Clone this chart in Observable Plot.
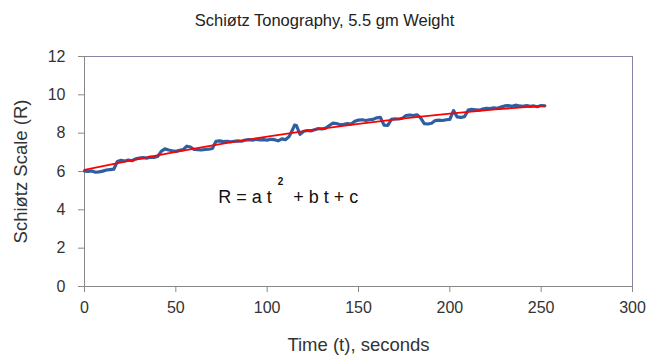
<!DOCTYPE html>
<html><head><meta charset="utf-8">
<script src="https://cdn.jsdelivr.net/npm/d3@7"></script>
<script src="https://cdn.jsdelivr.net/npm/@observablehq/plot@0.6"></script>
<style>
body{margin:0;background:#fff;font-family:"Liberation Sans",Arial,sans-serif;}
#title{width:649px;height:40px;line-height:40px;text-align:center;font-size:16.5px;color:#222;}
#chart svg{display:block;}
</style></head><body>
<div id="title"></div>
<div id="chart"></div>
<script>
const chartTitle = "Schiøtz Tonography, 5.5 gm Weight";
const xLabel = "Time (t), seconds";
const yLabel = "Schiøtz Scale (R)";
const xTicks = [0, 50, 100, 150, 200, 250, 300];
const yTicks = [0, 2, 4, 6, 8, 10, 12];

// measured readings (blue)
const times = [0,2,4,6,8,10,12,14,16,18,20,22,24,26,28,30,32,34,36,38,40,42,44,46,48,50,52,54,56,58,60,62,64,66,68,70,72,74,76,78,80,82,84,86,88,90,92,94,96,98,100,102,104,106,108,110,112,114,115,116,118,120,122,124,126,128,130,132,134,136,138,140,142,144,146,148,150,152,154,156,158,160,162,164,166,168,170,172,174,176,178,180,182,184,186,188,190,192,194,196,198,200,202,204,206,208,210,212,214,216,218,220,222,224,226,228,230,232,234,236,238,240,242,244,246,248,250,252];
const readings = [6.02,6.00,6.03,5.96,5.98,6.02,6.08,6.10,6.12,6.52,6.58,6.55,6.60,6.56,6.66,6.70,6.72,6.70,6.75,6.74,6.78,7.05,7.18,7.12,7.08,7.05,7.10,7.14,7.32,7.28,7.15,7.14,7.12,7.15,7.16,7.20,7.58,7.60,7.56,7.58,7.55,7.58,7.60,7.58,7.64,7.66,7.64,7.68,7.65,7.66,7.64,7.68,7.66,7.60,7.70,7.66,7.82,8.20,8.42,8.40,7.94,8.10,8.14,8.12,8.18,8.24,8.22,8.26,8.40,8.52,8.50,8.44,8.46,8.50,8.48,8.62,8.68,8.70,8.66,8.70,8.72,8.80,8.82,8.42,8.40,8.72,8.75,8.74,8.78,8.92,8.95,8.92,8.96,8.80,8.50,8.48,8.52,8.66,8.68,8.66,8.70,8.72,9.18,8.85,8.82,8.86,9.20,9.24,9.22,9.20,9.26,9.30,9.28,9.32,9.30,9.36,9.42,9.44,9.40,9.46,9.42,9.40,9.44,9.40,9.42,9.38,9.44,9.42];

// fitted curve (red)
const fitTimes = [0,25,50,75,100,125,150,175,200,225,250,252];
const fitValues = [6.08,6.57,7.02,7.44,7.82,8.17,8.49,8.77,9.02,9.24,9.42,9.44];

const measured = times.map((t, i) => ({t, R: readings[i]}));
const fit = fitTimes.map((t, i) => ({t, R: fitValues[i]}));

document.getElementById("title").textContent = chartTitle;

const font = "Liberation Sans, Arial, sans-serif";
const chart = Plot.plot({
  width: 649,
  height: 317,
  marginTop: 16,
  marginBottom: 71,
  marginLeft: 84,
  marginRight: 17,
  style: {fontFamily: font, fontSize: "16px", color: "#333", background: "#fff"},
  x: {domain: [0, 300]},
  y: {domain: [0, 12]},
  marks: [
    Plot.frame({stroke: "#8585a8", strokeWidth: 1}),
    Plot.axisY({ticks: yTicks, tickSize: 6, tickPadding: 13, stroke: "#888", fill: "#333", fontSize: 16, label: null}),
    Plot.axisX({ticks: xTicks, tickSize: 6, tickPadding: 9, stroke: "#888", fill: "#333", fontSize: 16, label: null}),
    Plot.text([yLabel], {frameAnchor: "left", dx: -63, rotate: -90, text: d => d, fontSize: 18.5, fill: "#333", textAnchor: "middle", lineAnchor: "middle"}),
    Plot.text([xLabel], {frameAnchor: "bottom", dy: 59, text: d => d, fontSize: 18.5, fill: "#333", textAnchor: "middle", lineAnchor: "middle"}),
    Plot.ruleX([0], {stroke: "#888"}),
    Plot.ruleY([0], {stroke: "#888"}),
    Plot.line(measured, {x: "t", y: "R", stroke: "#2f5f9f", strokeWidth: 3.2}),
    Plot.line(fit, {x: "t", y: "R", stroke: "#ff0000", strokeWidth: 1.8, curve: "catmull-rom"}),
    Plot.text(["R = a t"], {x: 73.2, y: 4.64, text: d => d, textAnchor: "start", fontSize: 18, fill: "#111", style: "letter-spacing:1px"}),
    Plot.text(["2"], {x: 105.8, y: 5.45, text: d => d, textAnchor: "start", fontSize: 10, fontWeight: "bold", fill: "#111"}),
    Plot.text(["+ b t + c"], {x: 114.3, y: 4.64, text: d => d, textAnchor: "start", fontSize: 18, fill: "#111"})
  ]
});
document.getElementById("chart").appendChild(chart);
</script>
</body></html>
